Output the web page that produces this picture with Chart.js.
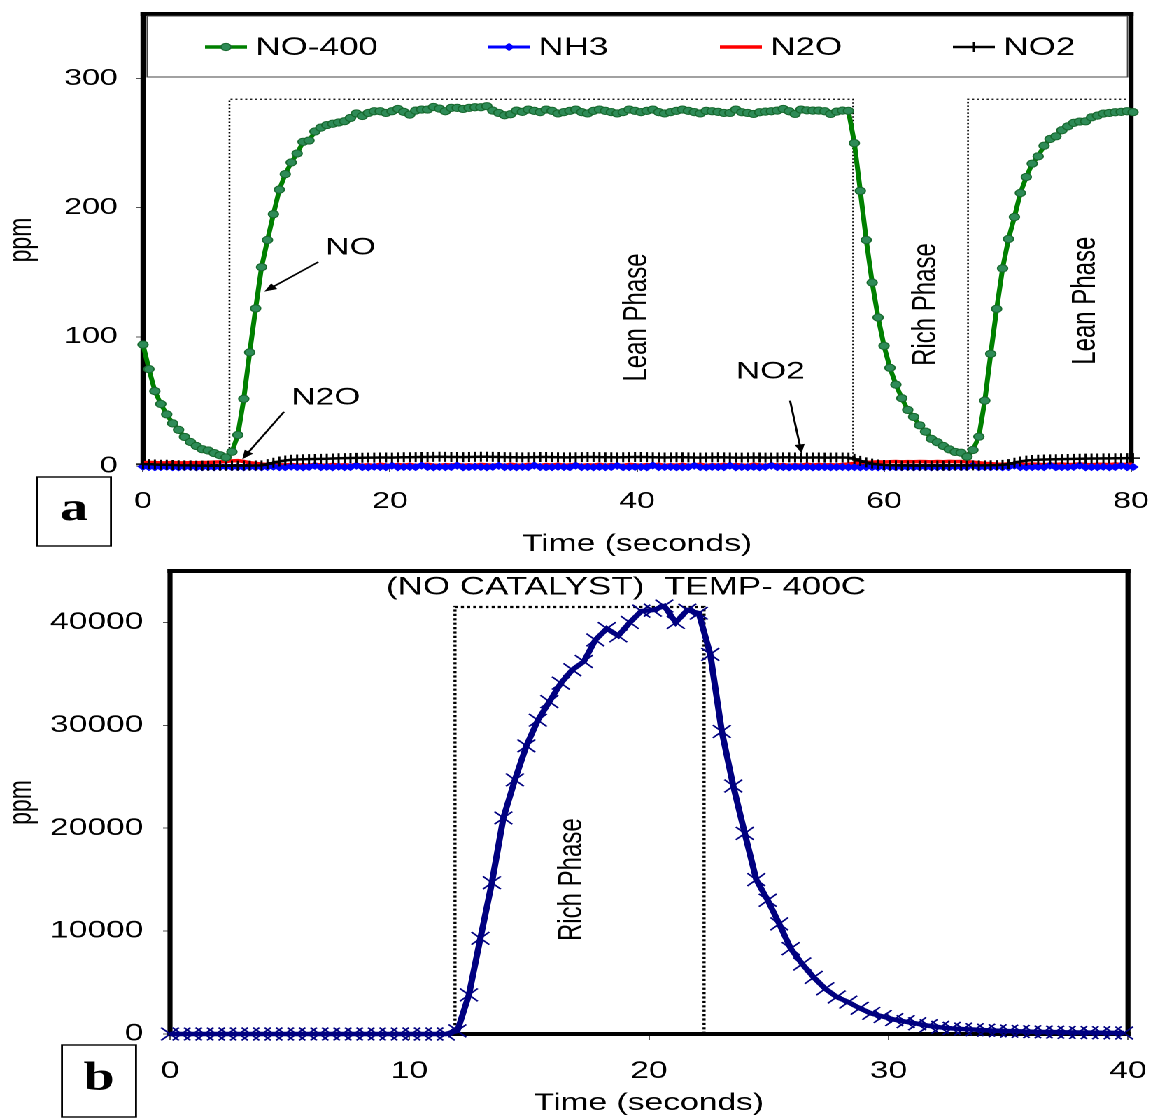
<!DOCTYPE html>
<html>
<head>
<meta charset="utf-8">
<title>NO conversion – lean/rich cycling</title>
<script src="https://cdn.jsdelivr.net/npm/chart.js@4/dist/chart.umd.min.js"></script>
<style>
  html, body { margin: 0; padding: 0; background: #fff; overflow: hidden; }
  /* the figure is laid out on a narrower board and widened horizontally */
  #stage { position: absolute; left: 0; top: 0; width: 824px; height: 1118px;
           transform: scaleX(1.39927); transform-origin: 0 0; }
  .pane { position: absolute; left: 0; width: 824px; }
  #paneA { top: 0; height: 560px; }
  #paneB { top: 560px; height: 558px; }
</style>
</head>
<body>
<div id="stage">
  <div class="pane" id="paneA"><canvas id="chartA"></canvas></div>
  <div class="pane" id="paneB"><canvas id="chartB"></canvas></div>
</div>
<script>
// ---- logged readings (one reading every SAMPLE_DT seconds) ----
const SAMPLE_DT = 0.48;

// panel a: catalyst outlet, 400 C
const NO_400 = [
  94, 75, 58, 48, 40, 33, 28, 22.5, 18.6, 15.5, 13, 12,
  10, 8.3, 6.7, 11, 24, 52, 88, 122, 154, 175, 195, 214,
  226, 235, 242, 251, 252, 259, 262, 264, 265, 266, 267, 269.5,
  273, 271, 273.4, 274.7, 274.7, 273.4, 274.7, 276.5, 274.2, 272.1, 275.2, 276,
  276, 278, 276.7, 274.7, 277.3, 277.3, 276.5, 277.3, 277.8, 277.8, 278.6, 275.2,
  273.4, 271.6, 272.4, 275.2, 274.2, 276,
  275, 274, 276, 275, 273, 274, 275, 276, 274, 273, 275, 276,
  275, 274, 273, 274, 276, 275, 274, 275, 276, 274, 273, 274,
  275, 276, 275, 274, 273, 275,
  274.7, 274.2, 273.4, 273.4, 276, 273.9, 273.4, 272.6, 273.9, 274.4, 274.7, 275.2,
  276.5, 274.7, 272.6, 276, 275.4, 275.2, 275.2, 274.7, 272.6, 274.4, 275.2,
  275, 250, 213, 175, 142, 115, 93, 76, 63, 52.5, 43.4, 38,
  31.5, 26.6, 21, 18.4, 15.5, 12.9, 10.9, 10.3, 7.2, 12.4, 22.7, 50.6,
  86.8, 121.7, 153, 175.8, 192.8, 211.4, 223.8, 234.1, 239.8, 248, 253.2, 255.3,
  260, 263, 265.7, 266.7, 266.9, 270, 271.3, 272.9, 273.4, 273.9, 274.2, 274.7, 274
];
const NH3 = [
  -0.5, -0.8, -1, -0.8, -0.6, -0.9, -1, -0.8, -0.7, -1, -0.9, -0.8,
  -1, -0.8, -0.6, -0.9, -0.8, -1, -0.7, -0.9, -1, -0.8, -0.5, -0.9,
  -1, -0.4, -0.9, -1, -0.8, 0.2, -0.9, -0.7, -1, -0.5, -0.9, -0.8,
  0.3, -0.9, -1, -0.6, -0.8, -0.9, 0.2, -1, -0.8, -0.7, -0.9, 0.4,
  -0.8, -1, -0.7, -0.9, -0.8, 0.3, -1, -0.9, -0.6, -0.8, -1, -0.7,
  0.2, -0.9, -0.8, -1, -0.7, -0.9, 0.4, -0.8, -1, -0.9, -0.6, -0.8,
  -1, 0.3, -0.9, -0.8, -1, -0.7, -0.9, -0.8, 0.2, -1, -0.9, -0.7,
  -0.8, -1, 0.4, -0.9, -0.8, -0.7, -1, -0.9, -0.8, 0.3, -0.9, -1,
  -0.7, -0.8, -0.9, 0.2, -1, -0.8, -0.9, -0.7, -1, -0.8, 0.3, -0.9,
  -0.8, -1, -0.7, -0.9, -0.8, -1, -0.9, -0.8, -1, -0.9, -0.8, -1,
  -0.9, -1, -0.8, -0.9, -1, -0.8, -0.9, -1, -0.9, -0.8, -1, -0.9,
  -0.8, -1, -0.9, -0.8, -1, -0.7, -0.9, -0.8, 0.2, -1, -0.8, -0.9,
  -0.7, -1, -0.8, 0.3, -0.9, -1, -0.8, -0.7, -0.9, 0.4, -1, -0.8,
  -0.9, -0.7, 0.3, -1, -0.8, -0.9, -0.6, -1, -0.8, 0.2, -0.9, -0.8
];
const N2O = [
  2.5, 2.8, 2.6, 2.4, 2.5, 2.7, 2.5, 2.4, 2.6, 2.5, 2.7, 2.8,
  3, 3.2, 3.5, 4, 4.2, 3.5, 2.5, 2, 1.5, 1.2, 1, 1,
  0.8, 1.2, 0.6, 1, 0.5, 1.3, 0.8, 0.5, 1.2, 0.7, 1, 0.6,
  1.2, 0.6, 1, 0.4, 1.3, 0.8, 0.5, 1.1, 0.7, 1.2, 0.5, 0.9,
  1.3, 0.7, 0.5, 1.1, 0.8, 1.2, 0.6, 1, 0.4, 1.2, 0.9, 0.6,
  1.1, 0.5, 1.3, 0.8, 0.6, 1.2, 0.9, 0.5, 1.1, 0.7, 1.3, 0.6,
  0.9, 1.2, 0.5, 1, 0.7, 1.3, 0.6, 1.1, 0.8, 0.5, 1.2, 0.9,
  0.6, 1.1, 0.8, 1.3, 0.5, 1, 0.7, 1.2, 0.6, 0.9, 1.3, 0.5,
  1, 0.7, 1.2, 0.6, 1.1, 0.8, 0.5, 1.3, 0.9, 0.6, 1.2, 0.8,
  1.1, 0.6, 1, 0.7, 1.3, 0.8, 1.2, 0.9, 1, 0.8, 1.2, 1.5,
  2, 2.5, 2.8, 3, 3.2, 3.1, 3.3, 3.5, 3.2, 3.4, 3.3, 3.5,
  3.4, 3.2, 3.5, 3.3, 3.6, 3.4, 3.5, 3.3, 3, 2.5, 2, 1.8,
  1.5, 1.3, 1.6, 1.2, 1.4, 1.1, 1.5, 1.3, 1, 1.4, 1.2, 1.5,
  1.1, 1.3, 1.6, 1.2, 1, 1.4, 1.3, 1.1, 1.5, 1.2, 1.3, 1.4
];
const NO2 = [
  1.5, 1.5, 1.2, 1, 1, 0.8, 0.6, 0.5, 0.5, 0.3, 0.3, 0.2,
  0.2, 0.2, 0.2, 0.3, 0.3, 0.3, 0.3, 0.4, 0.5, 1.5, 2.5, 3.5,
  4.3, 4.8, 5, 5.2, 5.3, 5.4, 5.5, 5.6, 5.8, 6, 6.1, 6.2,
  6.3, 6.4, 6.5, 6.5, 6.6, 6.6, 6.5, 6.7, 6.8, 6.8, 6.9, 7,
  7, 7.1, 7.2, 7.1, 7, 7, 6.9, 7, 7.1, 7.2, 7.2, 7.1,
  7, 6.9, 6.8, 6.8, 6.7, 6.8, 6.9, 7, 7, 6.9, 6.8, 6.7,
  6.7, 6.8, 6.9, 7, 7, 6.9, 6.8, 6.8, 6.7, 6.8, 6.9, 7,
  7, 6.9, 6.8, 6.7, 6.6, 6.7, 6.8, 6.8, 6.7, 6.6, 6.5, 6.6,
  6.7, 6.8, 6.7, 6.6, 6.5, 6.5, 6.6, 6.7, 6.6, 6.5, 6.5, 6.6,
  6.7, 6.7, 6.6, 6.5, 6.5, 6.6, 6.6, 6.5, 6.5, 6.6, 6.6, 6.5,
  5.5, 4, 2.8, 1.8, 1.2, 0.8, 0.6, 0.5, 0.4, 0.4, 0.3, 0.3,
  0.3, 0.3, 0.3, 0.3, 0.3, 0.4, 0.4, 0.4, 0.5, 0.5, 0.5, 0.6,
  0.7, 0.9, 1.5, 2.5, 3.5, 4.2, 4.6, 4.8, 5, 5.1, 5.2, 5.3,
  5.4, 5.5, 5.6, 5.7, 5.8, 5.8, 5.9, 5.9, 6, 6, 6.1, 6.1
];
// lean / rich switching outline (time s, level ppm)
const PHASE_A_T = [7.0, 7.0, 57.5, 57.5, 66.8, 66.8, 80];
const PHASE_A_V = [0, 284, 284, 0, 0, 284, 284];
const X_TICKS_A = [0, 20, 40, 60, 80];
const Y_TICKS_A = [0, 100, 200, 300];

// panel b: empty reactor (no catalyst), 400 C
const NO_NOCAT = [
  0, 0, 0, 0, 0, 0, 0, 0, 0, 0, 0, 0, 0,
  0, 0, 0, 0, 0, 0, 0, 0, 0, 0, 0, 0,
  300, 3800, 9300, 14700, 21000, 24700, 28000, 30500, 32300, 34100, 35400, 36200,
  38300, 39400, 38700, 40000, 41100, 41200, 41600, 40000, 41200, 40900, 36900, 29400, 24100,
  19500, 15000, 13000, 10700, 8300, 6800, 5500, 4400, 3600, 3100,
  2500, 2000, 1700, 1400, 1200, 1000, 800, 650, 550, 480,
  420, 370, 320, 280, 250, 220, 200, 180, 160, 140,
  130, 120, 110, 100
];
const PHASE_B_T = [11.9, 11.9, 22.3, 22.3];
const PHASE_B_V = [0, 41500, 41500, 0];
const X_TICKS_B = [0, 10, 20, 30, 40];
const Y_TICKS_B = [0, 10000, 20000, 30000, 40000];

// ---- helpers ----
const FONT = '"Liberation Sans", Arial, Helvetica, sans-serif';
Chart.defaults.font.family = FONT;
Chart.defaults.color = '#000';

const timed = (vals) => vals.map((v, i) => ({ x: Math.round(i * SAMPLE_DT * 100) / 100, y: v }));
const outline = (ts, vs) => ts.map((t, i) => ({ x: t, y: vs[i] }));
const fixedTicks = (list) => (scale) => { scale.ticks = list.map(v => ({ value: v })); };

function arrow(ctx, x0, y0, x1, y1) {
  const ang = Math.atan2(y1 - y0, x1 - x0), L = 9, W = 3.6;
  ctx.beginPath();
  ctx.moveTo(x0, y0);
  ctx.lineTo(x1 - Math.cos(ang) * L * 0.8, y1 - Math.sin(ang) * L * 0.8);
  ctx.stroke();
  ctx.beginPath();
  ctx.moveTo(x1, y1);
  ctx.lineTo(x1 - Math.cos(ang) * L - Math.sin(ang) * W, y1 - Math.sin(ang) * L + Math.cos(ang) * W);
  ctx.lineTo(x1 - Math.cos(ang) * L + Math.sin(ang) * W, y1 - Math.sin(ang) * L - Math.cos(ang) * W);
  ctx.closePath();
  ctx.fill();
}

// frame, in-plot legend, notes, arrows and panel tag
function decor(cfg) {
  return {
    id: 'decor',
    beforeDatasetsDraw(chart) {
      const { ctx, chartArea: a } = chart;
      const fv = 3.6, fh = 4;
      ctx.save();
      ctx.strokeStyle = '#000';
      ctx.lineWidth = fh;
      ctx.beginPath();
      ctx.moveTo(a.left - fv / 2, a.top); ctx.lineTo(a.right + fv / 2, a.top);
      ctx.moveTo(a.left - fv / 2, a.bottom); ctx.lineTo(a.right + fv / 2, a.bottom);
      ctx.stroke();
      ctx.lineWidth = fv;
      ctx.beginPath();
      ctx.moveTo(a.left, a.top - fh / 2); ctx.lineTo(a.left, a.bottom + fh / 2);
      ctx.moveTo(a.right, a.top - fh / 2); ctx.lineTo(a.right, a.bottom + fh / 2);
      ctx.stroke();
      ctx.restore();
    },
    afterDatasetsDraw(chart) {
      const { ctx, chartArea: a, scales: { x, y } } = chart;
      ctx.save();
      if (cfg.legend) {
        const lx = a.left + 2.5, ly = a.top + 2, lw = a.right - 2 - lx, lh = 61;
        ctx.fillStyle = '#fff';
        ctx.fillRect(lx, ly, lw, lh);
        ctx.strokeStyle = '#444';
        ctx.lineWidth = 1;
        ctx.strokeRect(lx + 0.5, ly, lw - 1, lh);
        const cy = a.top + 33;
        ctx.font = '25px ' + FONT;
        ctx.textBaseline = 'middle';
        ctx.textAlign = 'left';
        cfg.legend.forEach((item) => {
          const ds = chart.data.datasets[item.index];
          const x0 = a.left + item.offset;
          ctx.strokeStyle = ds.borderColor;
          ctx.lineWidth = ds.borderWidth;
          ctx.beginPath(); ctx.moveTo(x0, cy); ctx.lineTo(x0 + 30, cy); ctx.stroke();
          if (ds.pointRadius > 0) {
            ctx.fillStyle = ds.pointBackgroundColor;
            ctx.strokeStyle = ds.pointBorderColor;
            ctx.lineWidth = ds.pointBorderWidth;
            Chart.helpers.drawPoint(ctx, { pointStyle: ds.pointStyle, radius: ds.pointRadius,
              borderWidth: ds.pointBorderWidth, rotation: 0 }, x0 + 15, cy);
          }
          ctx.fillStyle = '#000';
          ctx.fillText(ds.label, x0 + 36, cy + 1);
        });
      }
      ctx.fillStyle = '#000';
      ctx.strokeStyle = '#000';
      ctx.lineWidth = 1.5;
      (cfg.arrows || []).forEach(r => arrow(ctx, x.getPixelForValue(r[0]), y.getPixelForValue(r[1]),
                                                 x.getPixelForValue(r[2]), y.getPixelForValue(r[3])));
      ctx.textAlign = 'center';
      ctx.textBaseline = 'middle';
      (cfg.notes || []).forEach(n => {
        ctx.font = (n.size || 24) + 'px ' + FONT;
        const px = x.getPixelForValue(n.t), py = y.getPixelForValue(n.v);
        if (n.upright) {
          ctx.save(); ctx.translate(px, py); ctx.rotate(-Math.PI / 2);
          ctx.fillText(n.text, 0, 0); ctx.restore();
        } else {
          ctx.fillText(n.text, px, py);
        }
      });
      ctx.restore();
    },
    afterDraw(chart) {
      const { ctx } = chart, t = cfg.tag;
      ctx.save();
      ctx.fillStyle = '#fff';
      ctx.fillRect(t.x, t.y, t.w, t.h);
      ctx.strokeStyle = '#000';
      ctx.lineWidth = 1.4;
      ctx.strokeRect(t.x, t.y, t.w, t.h);
      ctx.fillStyle = '#000';
      ctx.font = 'bold 40px "Liberation Serif", "Times New Roman", serif';
      ctx.textAlign = 'center';
      ctx.textBaseline = 'middle';
      ctx.fillText(t.text, t.x + t.w / 2, t.y + t.h / 2 - 2);
      ctx.restore();
    }
  };
}

// axis boxes keep a fixed size; label overhang is not reserved
function pinSize(prop, size) {
  return (s) => {
    s[prop] = size;
    s.paddingLeft = s.paddingRight = s.paddingTop = s.paddingBottom = 0;
  };
}

function axes(o) {
  return {
    x: {
      type: 'linear', min: o.xMin, max: o.xMax,
      afterBuildTicks: fixedTicks(o.xTicks),
      ticks: { font: { size: o.tickSize }, padding: o.xPad, maxRotation: 0, color: '#000',
               callback: (v) => String(v) },
      grid: { drawOnChartArea: false, drawTicks: true, tickLength: 6, tickColor: '#555', tickWidth: 1 },
      border: { display: false },
      title: { display: true, text: 'Time (seconds)', font: { size: 24 }, color: '#000',
               padding: { top: 0, bottom: o.titlePad } },
      afterFit: pinSize('height', o.xHeight)
    },
    y: {
      type: 'linear', min: o.yMin, max: o.yMax,
      afterBuildTicks: fixedTicks(o.yTicks),
      ticks: { font: { size: o.tickSize }, padding: o.yPad, color: '#000', callback: (v) => String(v) },
      grid: { drawOnChartArea: false, drawTicks: true, tickLength: 5, tickColor: '#555', tickWidth: 1 },
      border: { display: false },
      title: { display: true, text: 'ppm', font: { size: 23 }, color: '#000', padding: { top: 2, bottom: 0 } },
      afterFit: pinSize('width', o.yWidth)
    }
  };
}

const common = {
  responsive: true, maintainAspectRatio: false, animation: false, events: [],
  devicePixelRatio: 2,
  plugins: { legend: { display: false }, tooltip: { enabled: false }, title: { display: false } }
};

// ---- panel a ----
new Chart(document.getElementById('chartA'), {
  type: 'line',
  data: {
    datasets: [
      { label: 'NO-400', data: timed(NO_400), borderColor: '#008000', borderWidth: 3.5,
        pointStyle: 'circle', pointRadius: 3.6, pointBackgroundColor: '#2E8B57',
        pointBorderColor: '#17692E', pointBorderWidth: 1, order: 0, clip: false },
      { label: 'NH3', data: timed(NH3), borderColor: '#0000FF', borderWidth: 3,
        pointStyle: 'rectRot', pointRadius: 3.4, pointBackgroundColor: '#0000FF',
        pointBorderColor: '#0000FF', pointBorderWidth: 1, order: 2, clip: false },
      { label: 'N2O', data: timed(N2O), borderColor: '#FF0000', borderWidth: 3.5,
        pointRadius: 0, order: 3, clip: false },
      { label: 'NO2', data: timed(NO2), borderColor: '#000000', borderWidth: 2.5,
        pointStyle: 'cross', pointRadius: 5, pointBackgroundColor: '#000',
        pointBorderColor: '#000', pointBorderWidth: 1.5, order: 1, clip: false },
      { label: 'phase', data: outline(PHASE_A_T, PHASE_A_V), borderColor: '#000', borderWidth: 1.3,
        borderDash: [1.5, 2], pointRadius: 0, order: 4 }
    ]
  },
  options: Object.assign({}, common, {
    layout: { padding: { left: 0, top: 14, right: 15.7, bottom: 0 } },
    scales: axes({ xMin: 0, xMax: 80, xTicks: X_TICKS_A, yMin: 0, yMax: 350, yTicks: Y_TICKS_A,
                   tickSize: 23, xPad: 16, yPad: 13, titlePad: 1, xHeight: 94, yWidth: 102.2 })
  }),
  plugins: [decor({
    legend: [ { index: 0, offset: 44.3 }, { index: 1, offset: 246.6 },
              { index: 2, offset: 412.3 }, { index: 3, offset: 578.8 } ],
    notes: [
      { text: 'NO', t: 16.8, v: 169 },
      { text: 'N2O', t: 14.8, v: 52.7 },
      { text: 'NO2', t: 50.8, v: 73 },
      { text: 'Lean Phase', t: 40.0, v: 115, upright: true },
      { text: 'Rich Phase', t: 63.4, v: 125, upright: true },
      { text: 'Lean Phase', t: 76.3, v: 128, upright: true }
    ],
    arrows: [ [14.2, 158, 9.82, 135], [11.42, 42, 8.04, 5.2], [52.39, 50.6, 53.33, 9.8] ],
    tag: { text: 'a', x: 26.4, y: 477, w: 52.9, h: 69 }
  })]
});

// ---- panel b ----
new Chart(document.getElementById('chartB'), {
  type: 'line',
  data: {
    datasets: [
      { label: 'NO', data: timed(NO_NOCAT), borderColor: '#000080', borderWidth: 4.5,
        pointStyle: 'crossRot', pointRadius: 9, pointBorderColor: '#000080',
        pointBackgroundColor: '#000080', pointBorderWidth: 1.4, order: 0, clip: false },
      { label: 'phase', data: outline(PHASE_B_T, PHASE_B_V), borderColor: '#000', borderWidth: 2.2,
        borderDash: [2.2, 2.2], pointRadius: 0, order: 1 }
    ]
  },
  options: Object.assign({}, common, {
    layout: { padding: { left: 0, top: 11, right: 17.9, bottom: 0 } },
    scales: axes({ xMin: 0, xMax: 40, xTicks: X_TICKS_B, yMin: 0, yMax: 45000, yTicks: Y_TICKS_B,
                   tickSize: 24, xPad: 17, yPad: 14, titlePad: 0, xHeight: 84, yWidth: 121.5 })
  }),
  plugins: [decor({
    notes: [
      { text: '(NO CATALYST)  TEMP- 400C', t: 19.04, v: 43400, size: 25 },
      { text: 'Rich Phase', t: 16.8, v: 15000, upright: true }
    ],
    tag: { text: 'b', x: 44.3, y: 485, w: 52.9, h: 72 }
  })]
});
</script>
</body>
</html>
